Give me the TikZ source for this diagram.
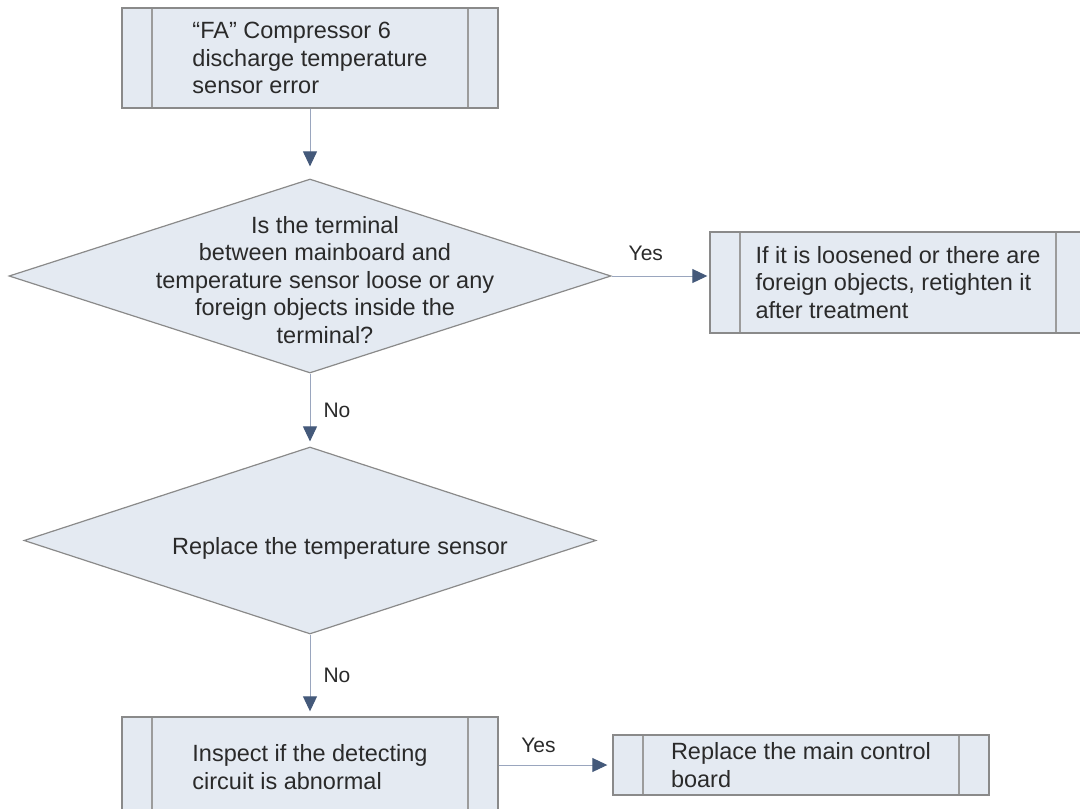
\documentclass[tikz,border=0pt]{standalone}
\usepackage{fontspec}
\setmainfont{Liberation Sans}
\usetikzlibrary{shapes.geometric,arrows.meta}
\definecolor{boxfill}{HTML}{E4EAF2}
\definecolor{boxline}{HTML}{8A8A8A}
\definecolor{innerc}{HTML}{9C9C9C}
\definecolor{connc}{HTML}{9AA6BE}
\definecolor{arrowc}{HTML}{44597A}
\definecolor{txtc}{HTML}{2A2A2A}
\begin{document}
\begin{tikzpicture}[x=1pt,y=-1pt,
  maintext/.style={font=\fontsize{23.5}{27.5}\selectfont, text=txtc},
  proc/.style={draw=boxline, fill=boxfill, line width=1.4pt, minimum width=376pt,
    inner sep=0pt, maintext, align=left,
    path picture={
      \draw[innerc, line width=1.4pt] ([xshift=30pt]path picture bounding box.north west) -- ([xshift=30pt]path picture bounding box.south west);
      \draw[innerc, line width=1.4pt] ([xshift=-30pt]path picture bounding box.north east) -- ([xshift=-30pt]path picture bounding box.south east);
    }},
  dia/.style={diamond, draw=boxline, fill=boxfill, line width=1.2pt, inner sep=0pt},
  diatext/.style={maintext, align=center, inner sep=0pt},
  conn/.style={draw=connc, line width=1pt, -{Triangle[length=15pt,width=14pt,color=arrowc,fill=arrowc]}},
  lab/.style={font=\fontsize{21}{24}\selectfont, text=txtc, inner sep=3pt}
]
\useasboundingbox (0,0) rectangle (1080,809);
\clip (0,0) rectangle (1080,809);

% nodes
\node[proc, minimum height=100pt] (b1) at (310,58)
  {``FA'' Compressor 6\\discharge temperature\\sensor error};

\node[dia, minimum width=602pt, minimum height=194pt] (d1) at (310,276) {};
\node[diatext] (d1t) at (325,280)
  {Is the terminal\\between mainboard and\\temperature sensor loose or any\\foreign objects inside the\\terminal?};

\node[proc, minimum height=101pt] (b2) at (898,282.5)
  {If it is loosened or there are\\foreign objects, retighten it\\after treatment};

\node[dia, minimum width=572pt, minimum height=187pt] (d2) at (310,540.5) {};
\node[diatext] (d2t) at (340,548) {Replace the temperature sensor};

\node[proc, minimum height=100pt] (b3) at (310,767)
  {Inspect if the detecting\\circuit is abnormal};

\node[proc, minimum height=60pt] (b4) at (801,765)
  {Replace the main control\\board};

% connectors
\draw[conn, shorten >=12pt] (b1.south) -- (d1.north);
\draw[conn, shorten >=2pt] (d1.east) -- node[lab, pos=0.35, above=12pt] {Yes} (d1.east -| b2.west);
\draw[conn, shorten >=5pt] (d1.south) -- node[lab, right=10pt] {No} (d2.north);
\draw[conn, shorten >=5pt] (d2.south) -- node[lab, right=10pt] {No} (b3.north);
\draw[conn, shorten >=5pt] (b3.east |- b4.west) -- node[lab, pos=0.35, above=9pt] {Yes} (b4.west);
\end{tikzpicture}
\end{document}
